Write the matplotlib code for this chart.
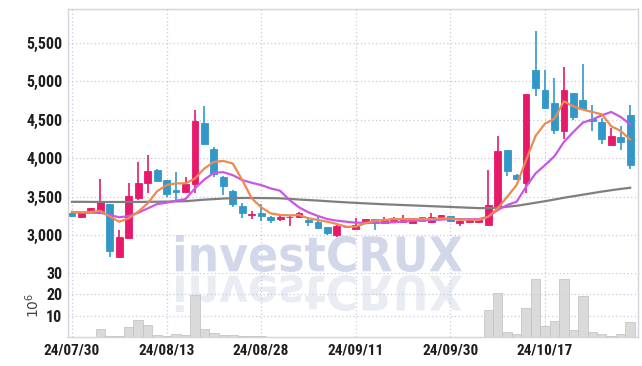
import matplotlib
matplotlib.use("Agg")
import matplotlib.pyplot as plt
import numpy as np
from matplotlib.textpath import TextPath
from matplotlib.patches import PathPatch, Rectangle
from matplotlib.transforms import Affine2D
from matplotlib.font_manager import FontProperties

# trading days (yy/mm/dd)
dates = [
    "24/07/30", "24/07/31", "24/08/01", "24/08/02", "24/08/05", "24/08/06", "24/08/07", "24/08/08",
    "24/08/09", "24/08/12", "24/08/13", "24/08/14", "24/08/16", "24/08/19", "24/08/20", "24/08/21",
    "24/08/22", "24/08/23", "24/08/26", "24/08/27", "24/08/28", "24/08/29", "24/08/30", "24/09/02",
    "24/09/03", "24/09/04", "24/09/05", "24/09/06", "24/09/09", "24/09/10", "24/09/11", "24/09/12",
    "24/09/13", "24/09/19", "24/09/20", "24/09/23", "24/09/24", "24/09/25", "24/09/26", "24/09/27",
    "24/09/30", "24/10/02", "24/10/04", "24/10/07", "24/10/08", "24/10/10", "24/10/11", "24/10/14",
    "24/10/15", "24/10/16", "24/10/17", "24/10/18", "24/10/21", "24/10/22", "24/10/23", "24/10/24",
    "24/10/25", "24/10/28", "24/10/29", "24/10/30",
]

opens = [3290, 3235, 3300, 3285, 3400, 2715, 2965, 3480, 3675, 3845,
         3715, 3580, 3565, 3670, 4455, 4115, 3750, 3570, 3375, 3262,
         3290, 3238, 3212, 3232, 3230, 3195, 3173, 3100, 3000, 3110,
         3080, 3152, 3207, 3160, 3178, 3168, 3160, 3234, 3165, 3230,
         3247, 3152, 3173, 3175, 3135, 3370, 4104, 3783, 3672, 5155,
         4884, 4714, 4355, 4845, 4763, 4506, 4468, 4173, 4277, 4558]
highs = [3310, 3300, 3350, 3730, 3405, 3065, 3675, 3950, 4040, 3860,
         3720, 3820, 3757, 4630, 4675, 4147, 3770, 3580, 3415, 3315,
         3400, 3250, 3260, 3245, 3305, 3235, 3238, 3110, 3125, 3115,
         3215, 3210, 3210, 3230, 3240, 3260, 3200, 3240, 3282, 3265,
         3252, 3185, 3220, 3203, 3845, 4286, 4110, 3800, 4835, 5650,
         5143, 5049, 5186, 4850, 5221, 4689, 4520, 4390, 4420, 4698]
lows = [3240, 3225, 3295, 3270, 2715, 2710, 2960, 3455, 3550, 3700,
        3490, 3430, 3555, 3545, 4180, 3760, 3520, 3370, 3220, 3208,
        3185, 3152, 3180, 3117, 3225, 3120, 3080, 3000, 2978, 3090,
        3075, 3150, 3070, 3155, 3175, 3165, 3155, 3178, 3160, 3225,
        3175, 3117, 3170, 3156, 3130, 3365, 3766, 3720, 3541, 4805,
        4650, 4321, 4247, 4500, 4630, 4351, 4182, 4165, 4104, 3853]
closes = [3250, 3295, 3345, 3430, 2785, 2975, 3505, 3675, 3830, 3700,
          3530, 3565, 3670, 4480, 4190, 3795, 3640, 3400, 3285, 3275,
          3248, 3198, 3238, 3240, 3290, 3165, 3087, 3030, 3121, 3100,
          3135, 3205, 3160, 3205, 3217, 3200, 3195, 3182, 3234, 3256,
          3180, 3182, 3207, 3200, 3390, 4090, 3835, 3725, 4830, 4915,
          4654, 4373, 4892, 4537, 4641, 4485, 4251, 4286, 4212, 3909]

# moving averages as drawn on the chart
ma_short = [3300, 3295, 3300, 3315, 3240, 3173, 3217, 3303, 3412, 3570,
            3650, 3672, 3672, 3736, 3866, 3952, 3965, 3930, 3715, 3477,
            3360, 3282, 3260, 3255, 3260, 3217, 3195, 3173, 3143, 3108,
            3108, 3152, 3186, 3195, 3207, 3207, 3207, 3205, 3207, 3215,
            3215, 3200, 3200, 3195, 3238, 3346, 3498, 3650, 3974, 4290,
            4450, 4515, 4741, 4676, 4633, 4602, 4572, 4416, 4355, 4243]
ma_mid = [3300, 3290, 3290, 3290, 3260, 3230, 3247, 3290, 3346, 3403,
          3420, 3446, 3468, 3607, 3723, 3810, 3818, 3779, 3715, 3680,
          3650, 3607, 3576, 3455, 3360, 3295, 3247, 3208, 3186, 3173,
          3160, 3160, 3160, 3160, 3165, 3173, 3186, 3190, 3195, 3200,
          3208, 3205, 3205, 3205, 3238, 3325, 3390, 3433, 3628, 3801,
          3910, 4026, 4212, 4342, 4464, 4503, 4559, 4602, 4537, 4442]
ma_long = [3432, 3432, 3431, 3430, 3430, 3430, 3430, 3430, 3432, 3433,
           3435, 3437, 3440, 3450, 3460, 3467, 3475, 3480, 3482, 3482,
           3481, 3480, 3478, 3470, 3462, 3455, 3448, 3440, 3432, 3425,
           3418, 3412, 3406, 3400, 3395, 3390, 3385, 3380, 3375, 3370,
           3365, 3360, 3355, 3350, 3350, 3355, 3368, 3380, 3400, 3420,
           3440, 3462, 3485, 3505, 3525, 3545, 3565, 3583, 3600, 3615]

# volume in millions of shares
volume = [0.1, 0.1, 0.2, 3.9, 0.6, 0.3, 4.7, 8.1, 5.5, 0.8,
          0.5, 1.6, 1.1, 19.5, 3.9, 1.7, 0.8, 0.8, 0.3, 0.3,
          0.3, 0.1, 0.1, 0.1, 0.1, 0.1, 0.1, 0.1, 0.1, 0.1,
          0.1, 0.1, 0.1, 0.1, 0.1, 0.1, 0.1, 0.1, 0.2, 0.2,
          0.2, 0.2, 0.2, 0.2, 12.8, 20.8, 2.2, 1.3, 13.8, 27.3,
          5.3, 7.5, 27.3, 3.4, 19.4, 2.2, 1.3, 0.6, 1.6, 7.0]

price_ticks = [3000, 3500, 4000, 4500, 5000, 5500]
vol_ticks = [10, 20, 30]
date_tick_idx = [0, 10, 20, 30, 40, 50]

UP = "#e8196a"
DOWN = "#3298c9"
GRID = "#c9c9dc"
SPINE = "#d4d4dc"
W, H = 642, 366

plt.rcParams["font.family"] = ["Roboto Condensed", "DejaVu Sans"]

fig = plt.figure(figsize=(W / 100, H / 100), dpi=100, facecolor="white")
ax = fig.add_axes([68 / W, 1 - 273 / H, 570 / W, 264 / H], facecolor="none")
axv = fig.add_axes([68 / W, 1 - 337 / H, 570 / W, 64 / H], facecolor="none", sharex=ax)

# watermark with its mirror image
tp = TextPath((0, 0), "investCRUX", size=100,
              prop=FontProperties(family="DejaVu Sans", weight="bold"))
ext = tp.get_extents()
sx = 286 / ext.width
sy = 37 / ext.height
base = Affine2D().translate(-ext.x0, -ext.y0)
wm = PathPatch(tp, transform=base + Affine2D().scale(sx, sy).translate(176, H - 272),
               facecolor="#d2d8ea", edgecolor="none", zorder=-5)
wm_ref = PathPatch(tp, transform=base + Affine2D().scale(sx, -sy).translate(176, H - 275),
                   facecolor="#eaecf3", edgecolor="none", zorder=-5)
fig.add_artist(wm)
fig.add_artist(wm_ref)

x = np.arange(len(dates))

# candles
for i in x:
    o, h, l, c = opens[i], highs[i], lows[i], closes[i]
    col = UP if c >= o else DOWN
    ax.vlines(i, l, h, color=col, linewidth=1.2, zorder=3)
    body_lo = min(o, c)
    body_h = max(abs(c - o), 8)
    ax.add_patch(Rectangle((i - 0.36, body_lo), 0.72, body_h, facecolor=col,
                           edgecolor=col, linewidth=0.6, zorder=4))

ax.plot(x, ma_long, color="#7f7f7f", linewidth=1.6, zorder=5)
ax.plot(x, ma_mid, color="#c957e6", linewidth=1.6, zorder=5)
ax.plot(x, ma_short, color="#ee8a50", linewidth=1.6, zorder=5)

ax.set_ylim(2505, 5943)
ax.set_xlim(-0.42, 59.83)
ax.set_yticks(price_ticks)
ax.set_yticklabels([f"{v:,}" for v in price_ticks])
ax.grid(True, color=GRID, linestyle=(0, (1, 2)), linewidth=0.9)
ax.tick_params(axis="y", length=0, pad=4, labelsize=11.5, labelcolor="#1e1e1e")
ax.tick_params(axis="x", length=0, labelbottom=False)

# volume
axv.bar(x, volume, width=1.0, color="#d6d6d6", edgecolor="#c2c2c2", linewidth=0.6,
        alpha=0.9, zorder=3)
axv.set_ylim(0, 30)
axv.set_yticks(vol_ticks)
axv.set_xticks(date_tick_idx)
axv.set_xticklabels([dates[i] for i in date_tick_idx])
axv.grid(True, color=GRID, linestyle=(0, (1, 2)), linewidth=0.9)
axv.tick_params(axis="y", length=0, pad=4, labelsize=11.5, labelcolor="#1e1e1e")
axv.tick_params(axis="x", length=0, pad=5, labelsize=11, labelcolor="#1e1e1e")
axv.set_ylabel(r"$10^6$", fontsize=10, color="#444444", labelpad=3)

for lbl in ax.get_yticklabels() + axv.get_yticklabels() + axv.get_xticklabels():
    lbl.set_fontweight("semibold")

for a in (ax, axv):
    for s in a.spines.values():
        s.set_color(SPINE)
        s.set_linewidth(1.0)
ax.spines["bottom"].set_visible(False)
axv.spines["top"].set_visible(False)

fig.savefig("out.png", dpi=100, facecolor="white")
